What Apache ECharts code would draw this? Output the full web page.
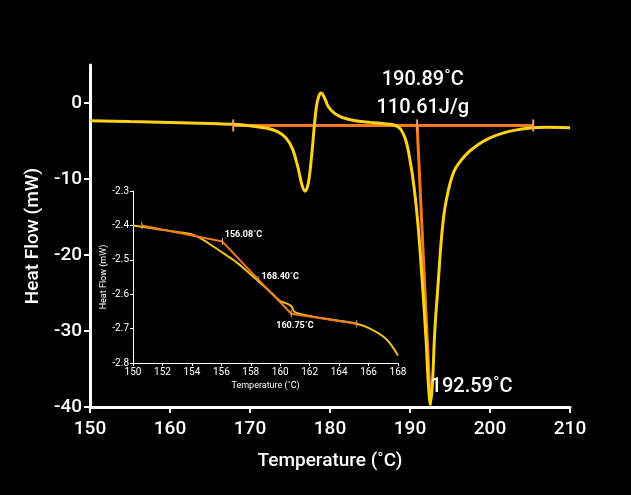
<!DOCTYPE html>
<html>
<head>
<meta charset="utf-8">
<script src="https://cdn.jsdelivr.net/npm/echarts@6/dist/echarts.min.js"></script>
<style>
  html, body { margin: 0; padding: 0; background: #000; }
  #chart { width: 631px; height: 495px; }
</style>
</head>
<body>
<div id="chart"></div>
<script>
  // main DSC trace (temperature in C, heat flow in mW)
  var tempMain = [150, 155, 160, 165, 168, 170, 172, 173.5, 174.5, 175.3, 176, 176.5, 176.9, 177.3, 177.7, 178, 178.3, 178.6, 178.9, 179.3, 179.8, 180.5, 181.5, 183, 185, 187, 188, 188.8, 189.5, 190, 190.5, 191, 191.5, 192, 192.3, 192.55, 192.8, 193.1, 193.5, 194, 194.5, 195.5, 197, 198.5, 200, 201.5, 203, 205, 207, 210];
  var flowMain = [-2.35, -2.45, -2.55, -2.7, -2.8, -3.0, -3.3, -3.8, -4.6, -6.0, -8.5, -10.8, -11.6, -10.5, -7, -3.5, -0.5, 0.9, 1.3, 0.7, -0.5, -1.3, -1.9, -2.3, -2.55, -2.75, -2.9, -3.4, -5, -7.5, -11, -16, -23, -31, -37, -39.6, -37, -30, -24, -17, -13, -9, -6.8, -5.5, -4.6, -4.0, -3.6, -3.3, -3.2, -3.25];
  // integration construction (orange)
  var baseTemp = [167.9, 205.4];
  var baseFlow = [-2.95, -2.95];
  var onsetTemp = [190.89, 192.55];
  var onsetFlow = [-2.95, -39.8];
  var mainTicks = [-40, -30, -20, -10, 0];

  // inset: glass transition detail
  var tempInset = [150, 151, 152, 153, 153.85, 154.6, 155.3, 156.1, 157, 157.9, 158.8, 159.5, 160, 160.5, 160.75, 161, 162, 162.9, 164, 165.2, 166.1, 167, 167.5, 168];
  var flowInset = [-2.40, -2.406, -2.413, -2.419, -2.424, -2.438, -2.457, -2.48, -2.506, -2.539, -2.573, -2.6, -2.62, -2.628, -2.635, -2.652, -2.663, -2.67, -2.677, -2.686, -2.70, -2.723, -2.745, -2.778];
  var tgTemp = [150.6, 156.08, 158.5, 160.75, 165.2];
  var tgFlow = [-2.40, -2.447, -2.557, -2.657, -2.686];

  function pairs(xs, ys) {
    return xs.map(function (x, i) { return [x, ys[i]]; });
  }

  var font = 'Roboto, sans-serif';
  var yellow = '#ffd21a';
  var orange = '#f27a1e';

  var chart = echarts.init(document.getElementById('chart'));
  chart.setOption({
    backgroundColor: '#000',
    animation: false,
    grid: [
      { left: 90, right: 61, top: 65, bottom: 88 },
      { left: 133, right: 233, top: 191, bottom: 132 }
    ],
    xAxis: [
      {
        gridIndex: 0, type: 'value', min: 150, max: 210, interval: 10,
        name: 'Temperature (˚C)', nameLocation: 'middle', nameGap: 45,
        nameTextStyle: { color: '#fff', fontSize: 19, fontFamily: font, fontWeight: 500 },
        axisLine: { onZero: false, lineStyle: { color: '#fff', width: 3 } },
        axisTick: { length: 6, lineStyle: { color: '#fff', width: 2 } },
        axisLabel: { color: '#fff', fontSize: 19, fontFamily: font, fontWeight: 500, margin: 13 },
        splitLine: { show: false }
      },
      {
        gridIndex: 1, type: 'value', min: 150, max: 168, interval: 2,
        name: 'Temperature (˚C)', nameLocation: 'middle', nameGap: 18,
        nameTextStyle: { color: '#fff', fontSize: 9, fontFamily: font },
        axisLine: { onZero: false, lineStyle: { color: '#fff', width: 1 } },
        axisTick: { length: 3, lineStyle: { color: '#fff' } },
        axisLabel: { color: '#fff', fontSize: 10, fontFamily: font, margin: 4 },
        splitLine: { show: false }
      }
    ],
    yAxis: [
      {
        gridIndex: 0, type: 'value', min: -40, max: 5,
        name: 'Heat Flow (mW)', nameLocation: 'middle', nameGap: 42,
        nameTextStyle: { color: '#fff', fontSize: 19, fontFamily: font, fontWeight: 500 },
        axisLine: { show: true, onZero: false, lineStyle: { color: '#fff', width: 3 } },
        axisTick: { show: true, length: 6, customValues: mainTicks, lineStyle: { color: '#fff', width: 2 } },
        axisLabel: { color: '#fff', fontSize: 19, fontFamily: font, fontWeight: 500, margin: 8, customValues: mainTicks },
        splitLine: { show: false }
      },
      {
        gridIndex: 1, type: 'value', min: -2.8, max: -2.3, interval: 0.1,
        name: 'Heat Flow (mW)', nameLocation: 'middle', nameGap: 25,
        nameTextStyle: { color: '#fff', fontSize: 9, fontFamily: font },
        axisLine: { show: true, onZero: false, lineStyle: { color: '#fff', width: 1 } },
        axisTick: { show: true, length: 3, lineStyle: { color: '#fff' } },
        axisLabel: { color: '#fff', fontSize: 10, fontFamily: font, margin: 4,
          formatter: function (v) { return v.toFixed(1); } },
        splitLine: { show: false }
      }
    ],
    series: [
      {
        type: 'line', xAxisIndex: 0, yAxisIndex: 0, data: pairs(baseTemp, baseFlow),
        showSymbol: false, lineStyle: { color: orange, width: 3 }, z: 3
      },
      {
        type: 'line', xAxisIndex: 0, yAxisIndex: 0, data: pairs(onsetTemp, onsetFlow),
        showSymbol: false, lineStyle: { color: orange, width: 3 }, z: 3
      },
      {
        type: 'line', xAxisIndex: 0, yAxisIndex: 0, data: pairs(tempMain, flowMain),
        smooth: 0.35, showSymbol: false, lineStyle: { color: yellow, width: 3 }, z: 4
      },
      {
        type: 'scatter', xAxisIndex: 0, yAxisIndex: 0,
        data: [[baseTemp[0], baseFlow[0]], [baseTemp[1], baseFlow[1]], [onsetTemp[0], onsetFlow[0]]],
        symbol: 'rect', symbolSize: [2, 12], itemStyle: { color: '#e8a070', opacity: 1 }, z: 5
      },
      {
        type: 'line', xAxisIndex: 1, yAxisIndex: 1, data: pairs(tempInset, flowInset),
        smooth: 0.3, showSymbol: false, lineStyle: { color: '#f0c020', width: 2 }, z: 3
      },
      {
        type: 'line', xAxisIndex: 1, yAxisIndex: 1, data: pairs(tgTemp, tgFlow),
        showSymbol: false, lineStyle: { color: orange, width: 2 }, z: 4
      },
      {
        type: 'scatter', xAxisIndex: 1, yAxisIndex: 1, data: pairs(tgTemp, tgFlow),
        symbol: 'rect', symbolSize: [1, 7], itemStyle: { color: '#e8a070', opacity: 1 }, z: 5
      },
      {
        // text annotations
        type: 'scatter', xAxisIndex: 0, yAxisIndex: 0, symbolSize: 0, z: 6, clip: false,
        itemStyle: { opacity: 1 },
        label: {
          show: true, color: '#fff', fontSize: 20, fontFamily: font, fontWeight: 500,
          lineHeight: 28, position: 'inside',
          formatter: function (p) { return p.data[2]; }
        },
        data: [
          [191.6, 1.2, '190.89˚C\n110.61J/g'],
          [197.7, -37.4, '192.59˚C']
        ]
      },
      {
        type: 'scatter', xAxisIndex: 1, yAxisIndex: 1, symbolSize: 0, z: 6, clip: false,
        itemStyle: { opacity: 1 },
        label: {
          show: true, color: '#fff', fontSize: 9, fontFamily: font, fontWeight: 'bold', position: 'inside',
          formatter: function (p) { return p.data[2]; }
        },
        data: [
          [157.5, -2.427, '156.08˚C'],
          [160.0, -2.548, '168.40˚C'],
          [161.0, -2.693, '160.75˚C']
        ]
      }
    ]
  });
</script>
</body>
</html>
